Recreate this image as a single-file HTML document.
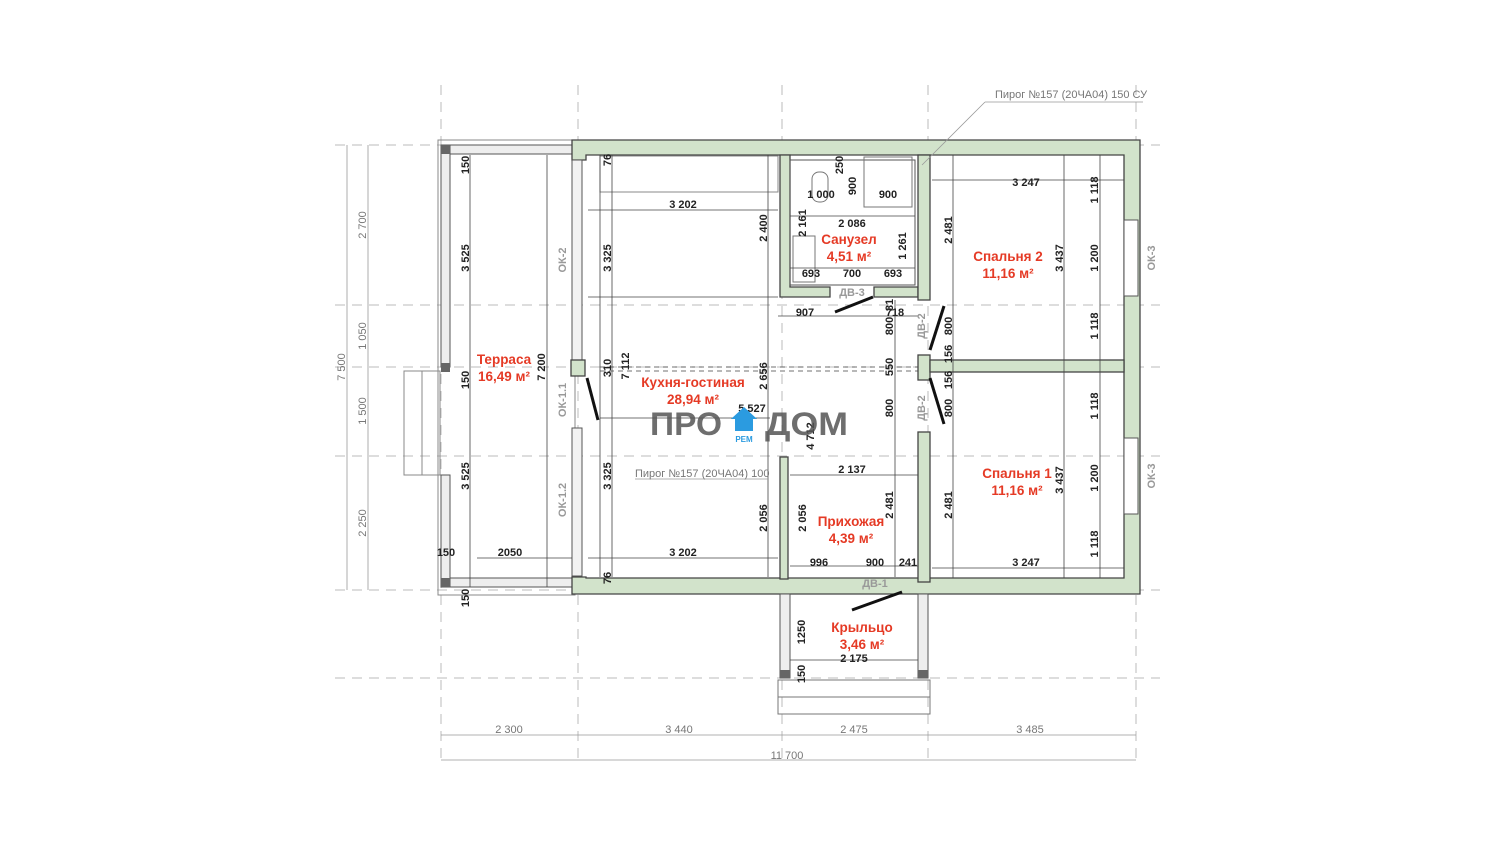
<!DOCTYPE html>
<html><head><meta charset="utf-8"><style>
html,body{margin:0;padding:0;background:#fff;width:1500px;height:849px;overflow:hidden}
svg{display:block}
.d{font-family:"Liberation Sans",sans-serif;font-size:11px;font-weight:bold;fill:#222}
.g{font-family:"Liberation Sans",sans-serif;font-size:11px;fill:#777}
.gb{font-family:"Liberation Sans",sans-serif;font-size:11px;font-weight:bold;fill:#999}
.r{font-family:"Liberation Sans",sans-serif;font-size:13.5px;font-weight:bold;fill:#e53a25}
.w{fill:#d2e3cb;stroke:#444;stroke-width:1.3}
.dl{stroke:#444;stroke-width:0.8;fill:none}
.gr{stroke:#bbb;stroke-width:1;stroke-dasharray:10 7;fill:none}
</style></head><body>
<svg width="1500" height="849" viewBox="0 0 1500 849" xmlns="http://www.w3.org/2000/svg">
<g class="gr">
<line x1="335" y1="145" x2="1160" y2="145"/>
<line x1="335" y1="305" x2="1160" y2="305"/>
<line x1="335" y1="367" x2="1160" y2="367"/>
<line x1="335" y1="456" x2="1160" y2="456"/>
<line x1="335" y1="590" x2="1160" y2="590"/>
<line x1="335" y1="678" x2="1160" y2="678"/>
<line x1="441" y1="85" x2="441" y2="765"/>
<line x1="578" y1="85" x2="578" y2="765"/>
<line x1="782" y1="85" x2="782" y2="765"/>
<line x1="928" y1="85" x2="928" y2="765"/>
<line x1="1136" y1="85" x2="1136" y2="765"/>
</g>
<g stroke="#999" stroke-width="0.8">
<line x1="347" y1="145" x2="347" y2="590"/>
<line x1="368" y1="145" x2="368" y2="590"/>
<line x1="441" y1="735" x2="1136" y2="735"/>
<line x1="441" y1="760" x2="1136" y2="760"/>
</g>
<g class="g" font-size="10">
<text transform="translate(366,225) rotate(-90)" text-anchor="middle">2 700</text>
<text transform="translate(366,336) rotate(-90)" text-anchor="middle">1 050</text>
<text transform="translate(366,411) rotate(-90)" text-anchor="middle">1 500</text>
<text transform="translate(366,523) rotate(-90)" text-anchor="middle">2 250</text>
<text transform="translate(345,367) rotate(-90)" text-anchor="middle">7 500</text>
<text x="509" y="733" text-anchor="middle">2 300</text>
<text x="679" y="733" text-anchor="middle">3 440</text>
<text x="854" y="733" text-anchor="middle">2 475</text>
<text x="1030" y="733" text-anchor="middle">3 485</text>
<text x="787" y="759" text-anchor="middle">11 700</text>
</g>
<rect x="438" y="140" width="137" height="455" fill="none" stroke="#888" stroke-width="1"/>
<rect x="404" y="371" width="36" height="104" fill="none" stroke="#888"/>
<line x1="422" y1="371" x2="422" y2="475" stroke="#888"/>
<rect x="441" y="145" width="9" height="222" fill="#eee" stroke="#555"/>
<rect x="441" y="475" width="9" height="112" fill="#eee" stroke="#555"/>
<rect x="450" y="145" width="122" height="9" fill="#eee" stroke="#555"/>
<rect x="450" y="578" width="122" height="9" fill="#eee" stroke="#555"/>
<rect x="441" y="145" width="9" height="9" fill="#666"/>
<rect x="441" y="363" width="9" height="9" fill="#666"/>
<rect x="441" y="578" width="9" height="9" fill="#666"/>
<path class="w" d="M572,140 H1140 V594 H572 V577 H586 V578 H1124 V155 H586 V160 H572 Z"/>
<rect x="572" y="160" width="10" height="200" fill="#f2f2f2" stroke="#555"/>
<rect x="571" y="360" width="14" height="16" class="w"/>
<rect x="572" y="428" width="10" height="148" fill="#f2f2f2" stroke="#555"/>
<rect x="1124" y="220" width="14" height="76" fill="#fff" stroke="#555"/>
<rect x="1124" y="438" width="14" height="76" fill="#fff" stroke="#555"/>
<path class="w" d="M780,155 H790 V287 H830 V297 H780 Z"/>
<path class="w" d="M874,287 H918 V297 H874 Z"/>
<rect x="918" y="155" width="12" height="145" class="w"/>
<rect x="918" y="355" width="12" height="25" class="w"/>
<rect x="918" y="432" width="12" height="150" class="w"/>
<rect x="930" y="360" width="194" height="12" class="w"/>
<rect x="780" y="457" width="8" height="122" class="w"/>
<rect x="790" y="160" width="125" height="125" fill="none" stroke="#555"/>
<rect x="864" y="157" width="48" height="50" fill="none" stroke="#777"/>
<rect x="812" y="172" width="16" height="30" rx="7" fill="none" stroke="#777"/>
<rect x="793" y="236" width="22" height="46" fill="none" stroke="#777"/>
<rect x="600" y="156" width="178" height="36" fill="none" stroke="#888"/>
<rect x="780" y="594" width="10" height="84" fill="#eee" stroke="#555"/>
<rect x="918" y="594" width="10" height="84" fill="#eee" stroke="#555"/>
<rect x="780" y="670" width="10" height="8" fill="#666"/><rect x="918" y="670" width="10" height="8" fill="#666"/>
<rect x="778" y="680" width="152" height="34" fill="none" stroke="#777"/>
<line x1="778" y1="697" x2="930" y2="697" stroke="#777"/>
<g stroke="#111" stroke-width="3">
<line x1="835" y1="312" x2="873" y2="297"/>
<line x1="930" y1="350" x2="944" y2="306"/>
<line x1="930" y1="378" x2="944" y2="424"/>
<line x1="852" y1="610" x2="902" y2="592"/>
<line x1="587" y1="378" x2="598" y2="420"/>
</g>
<g class="dl">
<line x1="588" y1="210" x2="778" y2="210"/><line x1="588" y1="297" x2="778" y2="297"/>
<line x1="588" y1="558" x2="778" y2="558"/><line x1="477" y1="558" x2="572" y2="558"/>
<line x1="470" y1="155" x2="470" y2="587"/><line x1="547" y1="155" x2="547" y2="587"/>
<line x1="612" y1="155" x2="612" y2="577"/><line x1="600" y1="155" x2="600" y2="577"/>
<line x1="768" y1="155" x2="768" y2="577"/>
<line x1="932" y1="180" x2="1124" y2="180"/><line x1="932" y1="568" x2="1124" y2="568"/>
<line x1="953" y1="155" x2="953" y2="578"/><line x1="1064" y1="155" x2="1064" y2="578"/><line x1="1100" y1="155" x2="1100" y2="578"/>
<line x1="790" y1="216" x2="915" y2="216"/><line x1="790" y1="268" x2="915" y2="268"/>
<line x1="790" y1="475" x2="918" y2="475"/><line x1="790" y1="566" x2="918" y2="566"/>
<line x1="790" y1="660" x2="918" y2="660"/>
<line x1="778" y1="316" x2="918" y2="316"/>
<line x1="895" y1="300" x2="895" y2="577"/>
<line x1="600" y1="367" x2="918" y2="367" stroke-dasharray="5 4"/>
<line x1="600" y1="371" x2="918" y2="371" stroke-dasharray="5 4"/>
<line x1="600" y1="418" x2="770" y2="418"/>
<line x1="635" y1="479" x2="768" y2="479" stroke="#999"/>
<line x1="922" y1="165" x2="985" y2="102" stroke="#999"/>
<line x1="985" y1="102" x2="1143" y2="102" stroke="#999"/>
</g>
<g class="d">
<text x="683" y="208" text-anchor="middle">3 202</text>
<text x="683" y="556" text-anchor="middle">3 202</text>
<text x="510" y="556" text-anchor="middle">2050</text>
<text x="446" y="556" text-anchor="middle">150</text>
<text transform="translate(469,165) rotate(-90)" text-anchor="middle">150</text>
<text transform="translate(469,258) rotate(-90)" text-anchor="middle">3 525</text>
<text transform="translate(469,380) rotate(-90)" text-anchor="middle">150</text>
<text transform="translate(469,476) rotate(-90)" text-anchor="middle">3 525</text>
<text transform="translate(469,598) rotate(-90)" text-anchor="middle">150</text>
<text transform="translate(545,367) rotate(-90)" text-anchor="middle">7 200</text>
<text transform="translate(611,258) rotate(-90)" text-anchor="middle">3 325</text>
<text transform="translate(611,476) rotate(-90)" text-anchor="middle">3 325</text>
<text transform="translate(611,160) rotate(-90)" text-anchor="middle">76</text>
<text transform="translate(611,578) rotate(-90)" text-anchor="middle">76</text>
<text transform="translate(611,368) rotate(-90)" text-anchor="middle">310</text>
<text transform="translate(629,366) rotate(-90)" text-anchor="middle">7 112</text>
<text transform="translate(767,228) rotate(-90)" text-anchor="middle">2 400</text>
<text transform="translate(767,376) rotate(-90)" text-anchor="middle">2 656</text>
<text transform="translate(767,518) rotate(-90)" text-anchor="middle">2 056</text>
<text transform="translate(806,518) rotate(-90)" text-anchor="middle">2 056</text>
<text transform="translate(814,436) rotate(-90)" text-anchor="middle">4 712</text>
<text x="752" y="412" text-anchor="middle">5 527</text>
<text transform="translate(843,165) rotate(-90)" text-anchor="middle">250</text>
<text transform="translate(856,186) rotate(-90)" text-anchor="middle">900</text>
<text x="821" y="198" text-anchor="middle">1 000</text>
<text x="888" y="198" text-anchor="middle">900</text>
<text x="852" y="227" text-anchor="middle">2 086</text>
<text transform="translate(806,223) rotate(-90)" text-anchor="middle">2 161</text>
<text transform="translate(906,246) rotate(-90)" text-anchor="middle">1 261</text>
<text x="811" y="277" text-anchor="middle">693</text>
<text x="852" y="277" text-anchor="middle">700</text>
<text x="893" y="277" text-anchor="middle">693</text>
<text x="805" y="316" text-anchor="middle">907</text>
<text x="895" y="316" text-anchor="middle">718</text>
<text transform="translate(893,305) rotate(-90)" text-anchor="middle">81</text>
<text transform="translate(893,326) rotate(-90)" text-anchor="middle">800</text>
<text transform="translate(893,367) rotate(-90)" text-anchor="middle">550</text>
<text transform="translate(893,408) rotate(-90)" text-anchor="middle">800</text>
<text transform="translate(952,326) rotate(-90)" text-anchor="middle">800</text>
<text transform="translate(952,354) rotate(-90)" text-anchor="middle">156</text>
<text transform="translate(952,380) rotate(-90)" text-anchor="middle">156</text>
<text transform="translate(952,408) rotate(-90)" text-anchor="middle">800</text>
<text transform="translate(952,230) rotate(-90)" text-anchor="middle">2 481</text>
<text transform="translate(952,505) rotate(-90)" text-anchor="middle">2 481</text>
<text transform="translate(893,505) rotate(-90)" text-anchor="middle">2 481</text>
<text x="1026" y="186" text-anchor="middle">3 247</text>
<text x="1026" y="566" text-anchor="middle">3 247</text>
<text transform="translate(1063,258) rotate(-90)" text-anchor="middle">3 437</text>
<text transform="translate(1063,480) rotate(-90)" text-anchor="middle">3 437</text>
<text transform="translate(1098,190) rotate(-90)" text-anchor="middle">1 118</text>
<text transform="translate(1098,258) rotate(-90)" text-anchor="middle">1 200</text>
<text transform="translate(1098,326) rotate(-90)" text-anchor="middle">1 118</text>
<text transform="translate(1098,406) rotate(-90)" text-anchor="middle">1 118</text>
<text transform="translate(1098,478) rotate(-90)" text-anchor="middle">1 200</text>
<text transform="translate(1098,544) rotate(-90)" text-anchor="middle">1 118</text>
<text x="852" y="473" text-anchor="middle">2 137</text>
<text x="819" y="566" text-anchor="middle">996</text>
<text x="875" y="566" text-anchor="middle">900</text>
<text x="908" y="566" text-anchor="middle">241</text>
<text transform="translate(805,632) rotate(-90)" text-anchor="middle">1250</text>
<text transform="translate(805,674) rotate(-90)" text-anchor="middle">150</text>
<text x="854" y="662" text-anchor="middle">2 175</text>
</g>
<g class="gb">
<text transform="translate(566,260) rotate(-90)" text-anchor="middle">ОК-2</text>
<text transform="translate(566,400) rotate(-90)" text-anchor="middle">ОК-1.1</text>
<text transform="translate(566,500) rotate(-90)" text-anchor="middle">ОК-1.2</text>
<text transform="translate(1155,258) rotate(-90)" text-anchor="middle">ОК-3</text>
<text transform="translate(1155,476) rotate(-90)" text-anchor="middle">ОК-3</text>
<text x="852" y="296" text-anchor="middle">ДВ-3</text>
<text x="875" y="587" text-anchor="middle">ДВ-1</text>
<text transform="translate(925,326) rotate(-90)" text-anchor="middle">ДВ-2</text>
<text transform="translate(925,408) rotate(-90)" text-anchor="middle">ДВ-2</text>
</g>
<text class="g" x="995" y="98" font-size="10">Пирог №157 (20ЧА04) 150 СУ</text>
<text class="g" x="635" y="477" font-size="10">Пирог №157 (20ЧА04) 100</text>
<g class="r" text-anchor="middle">
<text x="504" y="364">Терраса</text><text x="504" y="381">16,49 м²</text>
<text x="693" y="387">Кухня-гостиная</text><text x="693" y="404">28,94 м²</text>
<text x="849" y="244">Санузел</text><text x="849" y="261">4,51 м²</text>
<text x="1008" y="261">Спальня 2</text><text x="1008" y="278">11,16 м²</text>
<text x="1017" y="478">Спальня 1</text><text x="1017" y="495">11,16 м²</text>
<text x="851" y="526">Прихожая</text><text x="851" y="543">4,39 м²</text>
<text x="862" y="632">Крыльцо</text><text x="862" y="649">3,46 м²</text>
</g>
<text x="650" y="435" textLength="72" lengthAdjust="spacingAndGlyphs" font-family="Liberation Sans,sans-serif" font-size="32" font-weight="bold" fill="#555" fill-opacity="0.85">ПРО</text>
<text x="765" y="435" textLength="83" lengthAdjust="spacingAndGlyphs" font-family="Liberation Sans,sans-serif" font-size="32" font-weight="bold" fill="#555" fill-opacity="0.85">ДОМ</text>
<path d="M744,407 L731,419 H735 V431 H753 V419 H757 Z" fill="#2b9be0"/>
<text x="744" y="442" font-family="Liberation Sans,sans-serif" font-size="8" font-weight="bold" fill="#2b9be0" text-anchor="middle">РЕМ</text>
</svg>
</body></html>
